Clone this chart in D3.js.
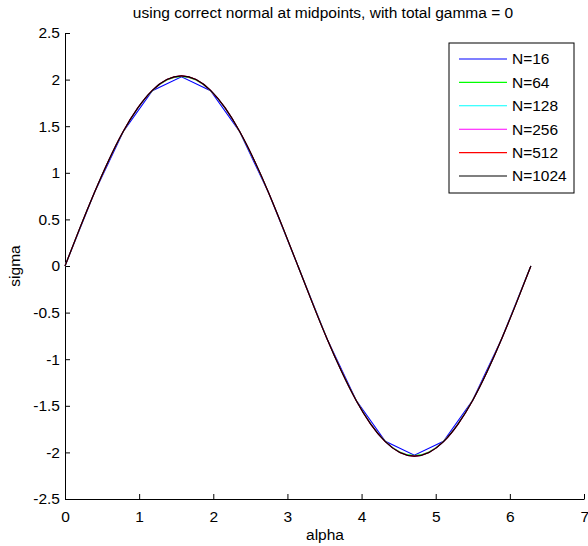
<!DOCTYPE html>
<html>
<head>
<meta charset="utf-8">
<script src="https://cdn.jsdelivr.net/npm/d3@7"></script>
<style>
  html, body { margin: 0; padding: 0; background: #fff; }
  svg text { font-family: "Liberation Sans", Arial, Helvetica, sans-serif; fill: #000; }
</style>
</head>
<body>
<svg id="chart" width="588" height="546"></svg>
<script>
// ---- data ----
const titleText = "using correct normal at midpoints, with total gamma = 0";
const xLabel = "alpha";
const yLabel = "sigma";
const xTicks = [0, 1, 2, 3, 4, 5, 6, 7];
const yTicks = [-2.5, -2, -1.5, -1, -0.5, 0, 0.5, 1, 1.5, 2, 2.5];
const seriesNames = ["N=16", "N=64", "N=128", "N=256", "N=512", "N=1024"];
const seriesColors = ["#0000ff", "#00ff00", "#00ffff", "#ff00ff", "#ff0000", "#000000"];

// N=16: 17 vertices, alpha = 0 .. 2*pi
const alpha16 = [0, 0.393, 0.785, 1.178, 1.571, 1.963, 2.356, 2.749, 3.142,
                 3.534, 3.927, 4.320, 4.712, 5.105, 5.498, 5.890, 6.283];
const sigma16 = [0, 0.78, 1.44, 1.88, 2.03, 1.88, 1.44, 0.78, 0,
                 -0.78, -1.44, -1.88, -2.03, -1.88, -1.44, -0.78, 0];

// finer resolutions: sampled along the drawn curves
const alphaFine = [0, 0.196, 0.393, 0.589, 0.785, 0.982, 1.178, 1.374, 1.571,
                   1.767, 1.963, 2.160, 2.356, 2.553, 2.749, 2.945, 3.142,
                   3.338, 3.534, 3.731, 3.927, 4.123, 4.320, 4.516, 4.712,
                   4.909, 5.105, 5.301, 5.498, 5.694, 5.890, 6.087, 6.283];
const sigma64 = [0, 0.397, 0.779, 1.131, 1.440, 1.692, 1.881, 1.996, 2.035,
                 1.996, 1.881, 1.692, 1.440, 1.131, 0.779, 0.397, 0,
                 -0.397, -0.779, -1.131, -1.440, -1.692, -1.881, -1.996, -2.035,
                 -1.996, -1.881, -1.692, -1.440, -1.131, -0.779, -0.397, 0];
const sigma128 = [0, 0.398, 0.780, 1.133, 1.442, 1.695, 1.884, 2.000, 2.039,
                  2.000, 1.884, 1.695, 1.442, 1.133, 0.780, 0.398, 0,
                  -0.398, -0.780, -1.133, -1.442, -1.695, -1.884, -2.000, -2.039,
                  -2.000, -1.884, -1.695, -1.442, -1.133, -0.780, -0.398, 0];
const sigma256 = [0, 0.398, 0.781, 1.133, 1.443, 1.696, 1.885, 2.001, 2.040,
                  2.001, 1.885, 1.696, 1.443, 1.133, 0.781, 0.398, 0,
                  -0.398, -0.781, -1.133, -1.443, -1.696, -1.885, -2.001, -2.040,
                  -2.001, -1.885, -1.696, -1.443, -1.133, -0.781, -0.398, 0];
const sigma512 = [0, 0.398, 0.781, 1.133, 1.443, 1.696, 1.885, 2.001, 2.040,
                  2.001, 1.885, 1.696, 1.443, 1.133, 0.781, 0.398, 0,
                  -0.398, -0.781, -1.133, -1.443, -1.696, -1.885, -2.001, -2.040,
                  -2.001, -1.885, -1.696, -1.443, -1.133, -0.781, -0.398, 0];
const sigma1024 = [0, 0.398, 0.781, 1.133, 1.443, 1.696, 1.885, 2.001, 2.040,
                   2.001, 1.885, 1.696, 1.443, 1.133, 0.781, 0.398, 0,
                   -0.398, -0.781, -1.133, -1.443, -1.696, -1.885, -2.001, -2.040,
                   -2.001, -1.885, -1.696, -1.443, -1.133, -0.781, -0.398, 0];

const seriesX = [alpha16, alphaFine, alphaFine, alphaFine, alphaFine, alphaFine];
const seriesY = [sigma16, sigma64, sigma128, sigma256, sigma512, sigma1024];

(function () {
// ---- layout ----
const svg = d3.select("#chart");
const mLeft = 65, mRight = 584, mTop = 33, mBottom = 499;

const x = d3.scaleLinear().domain([0, 7]).range([mLeft, mRight]);
const y = d3.scaleLinear().domain([-2.5, 2.5]).range([mBottom, mTop]);

const fs = 15.5;

// axes
const xAxis = d3.axisBottom(x).tickValues(xTicks).tickFormat(d3.format("d"))
  .tickSizeInner(-5).tickSizeOuter(0).tickPadding(12);
const yAxis = d3.axisLeft(y).tickValues(yTicks).tickFormat(d => String(d))
  .tickSizeInner(-5).tickSizeOuter(0).tickPadding(5);

const gx = svg.append("g").attr("transform", `translate(0,${mBottom})`).call(xAxis);
const gy = svg.append("g").attr("transform", `translate(${mLeft},0)`).call(yAxis);
[gx, gy].forEach(g => {
  g.selectAll("path.domain").attr("stroke", "#000").attr("stroke-width", 1);
  g.selectAll(".tick line").attr("stroke", "#000").attr("stroke-width", 1);
  g.selectAll(".tick text").attr("font-size", fs).attr("font-family", "Liberation Sans, Arial, sans-serif").attr("fill", "#000");
});
gx.selectAll(".tick text").attr("dy", "0.71em");
// keep the last x tick label inside the canvas
gx.selectAll(".tick text").filter(d => d === 7).attr("text-anchor", "end").attr("dx", "0.3em");

// lines
seriesNames.forEach((name, i) => {
  const line = d3.line().x(d => x(d[0])).y(d => y(d[1]))
    .curve(i === 0 ? d3.curveLinear : d3.curveNatural);
  const pts = seriesX[i].map((a, j) => [a, seriesY[i][j]]);
  svg.append("path")
    .datum(pts)
    .attr("fill", "none")
    .attr("stroke", seriesColors[i])
    .attr("stroke-width", 1.1)
    .attr("d", line);
});

// title and labels
svg.append("text").attr("x", 323).attr("y", 18)
  .attr("text-anchor", "middle").attr("font-size", fs).text(titleText);
svg.append("text").attr("x", 325).attr("y", 540)
  .attr("text-anchor", "middle").attr("font-size", fs).text(xLabel);
svg.append("text").attr("transform", `translate(20,${y(0)}) rotate(-90)`)
  .attr("text-anchor", "middle").attr("font-size", fs).text(yLabel);

// legend
const lgX = 449, lgY = 43, lgW = 125, lgH = 150;
const lg = svg.append("g");
lg.append("rect").attr("x", lgX).attr("y", lgY).attr("width", lgW).attr("height", lgH)
  .attr("fill", "#fff").attr("stroke", "#000").attr("stroke-width", 1);
const rowY = d3.scalePoint().domain(seriesNames).range([lgY + 16, lgY + 133]);
seriesNames.forEach((name, i) => {
  const yy = rowY(name);
  lg.append("line").attr("x1", lgX + 10).attr("x2", lgX + 58).attr("y1", yy).attr("y2", yy)
    .attr("stroke", seriesColors[i]).attr("stroke-width", 1.1);
  lg.append("text").attr("x", lgX + 63).attr("y", yy).attr("dy", "0.35em")
    .attr("font-size", fs).text(name);
});
})();
</script>
</body>
</html>
